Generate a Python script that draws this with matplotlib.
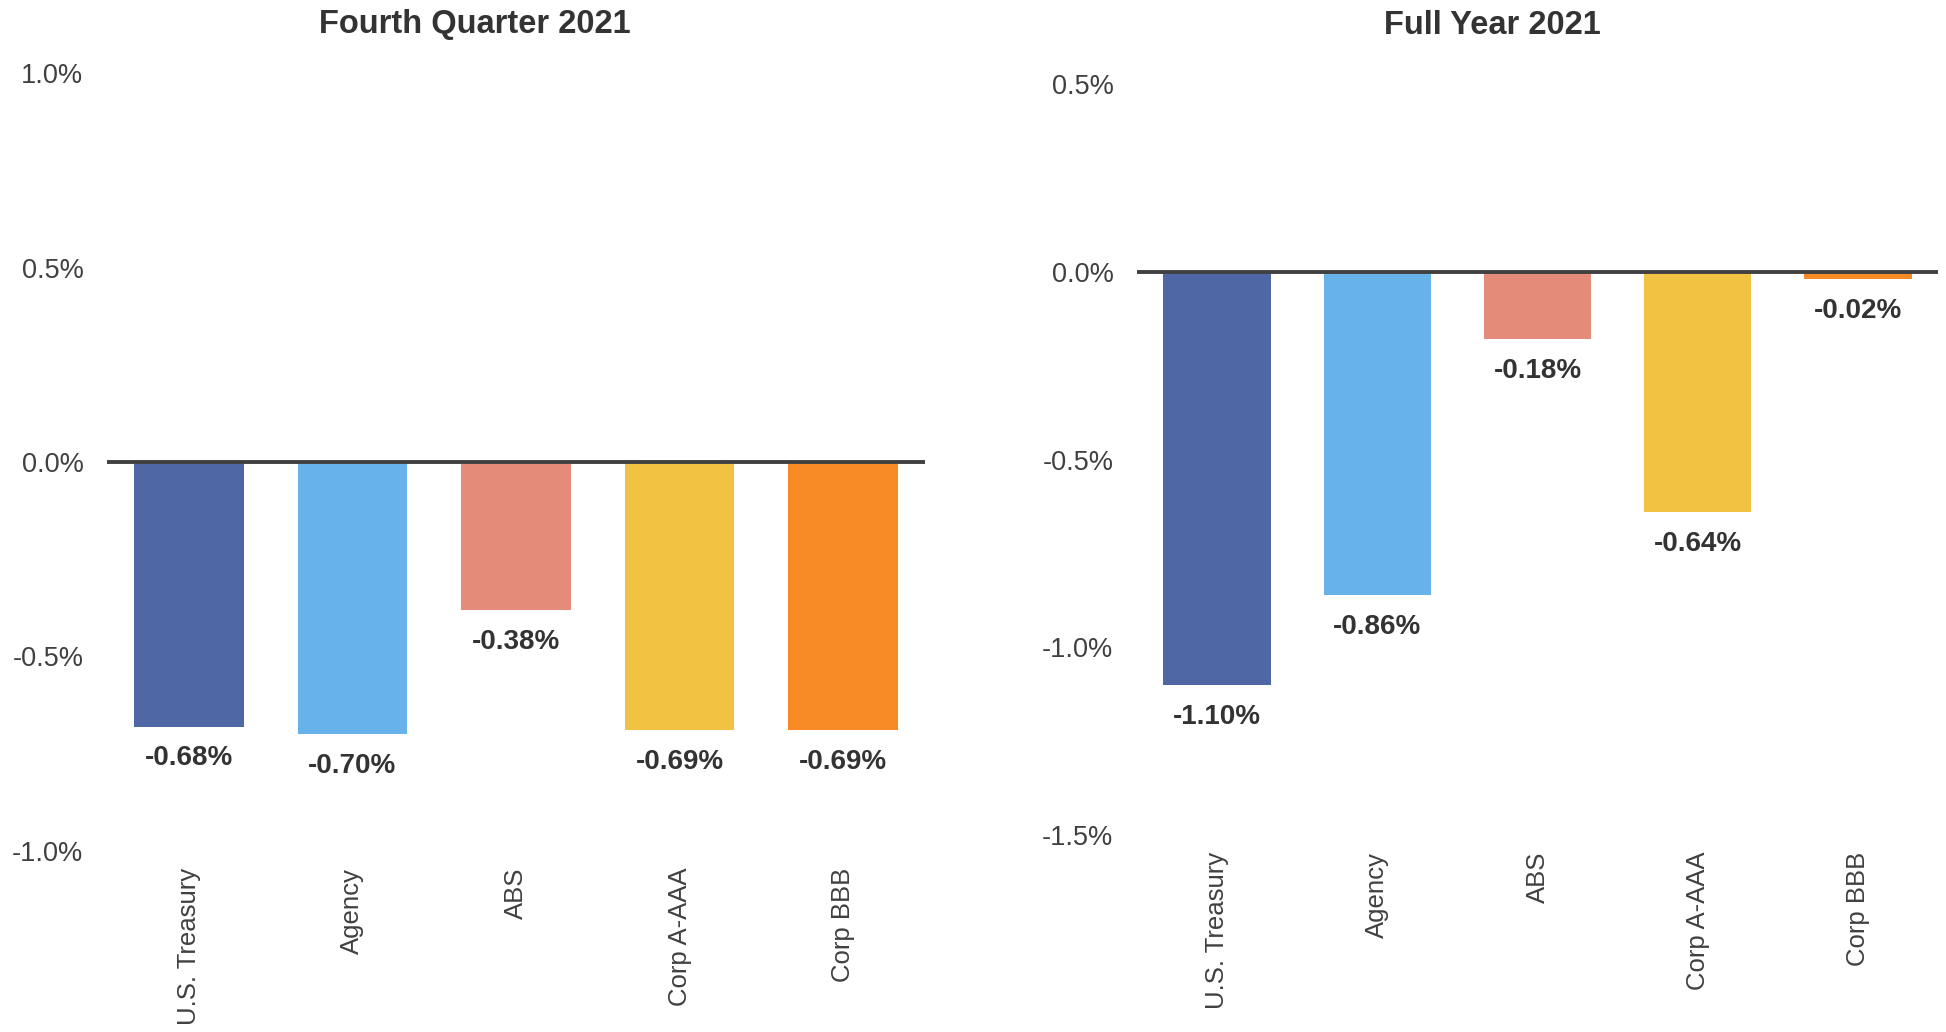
import matplotlib
matplotlib.use("Agg")
import matplotlib.pyplot as plt
from matplotlib.ticker import FuncFormatter

categories = ["U.S. Treasury", "Agency", "ABS", "Corp A-AAA", "Corp BBB"]
q4_values = [-0.68, -0.70, -0.38, -0.69, -0.69]
fy_values = [-1.10, -0.86, -0.18, -0.64, -0.02]
q4_title = "Fourth Quarter 2021"
fy_title = "Full Year 2021"
q4_ticks = [-1.0, -0.5, 0.0, 0.5, 1.0]
fy_ticks = [-1.5, -1.0, -0.5, 0.0, 0.5]
colors = ["#4F67A4", "#67B2E9", "#E48C79", "#F2C343", "#F78A25"]

NARROW = ["Liberation Sans Narrow", "Liberation Sans", "DejaVu Sans"]
REGULAR = ["Liberation Sans", "DejaVu Sans"]
TXT = "#404040"

fig = plt.figure(figsize=(19.46, 10.32), dpi=100)
W, H = 1946, 1032

def box(l, t, r, b):
    return [l / W, 1 - b / H, (r - l) / W, (b - t) / H]

panels = [
    (box(107, 73, 925, 851), q4_values, q4_ticks, q4_title, 475),
    (box(1137, 84, 1938, 835), fy_values, fy_ticks, fy_title, 1492),
]

for rect, vals, ticks, title, tx in panels:
    ax = fig.add_axes(rect)
    x = list(range(len(categories)))
    ax.bar(x, vals, width=0.67, color=colors, zorder=2)
    ax.axhline(0, color=TXT, lw=2.8, zorder=3)
    ax.set_xlim(-0.5, len(categories) - 0.5)
    ax.set_ylim(ticks[0], ticks[-1])
    ax.set_yticks(ticks)
    ax.yaxis.set_major_formatter(FuncFormatter(lambda v, p: f"{v:.1f}%"))
    ax.set_xticks(x)
    ax.set_xticklabels(categories, rotation=90, family=REGULAR, fontsize=18.5, color=TXT)
    for lab in ax.get_yticklabels():
        lab.set_family(NARROW)
        lab.set_fontsize(19.5)
        lab.set_color(TXT)
    ax.tick_params(axis="x", length=0, pad=12)
    ax.tick_params(axis="y", length=0, pad=17)
    for s in ax.spines.values():
        s.set_visible(False)
    for xi, v in zip(x, vals):
        ax.annotate(f"{v:.2f}%", (xi, v), xytext=(0, -23), textcoords="offset points",
                    ha="center", va="center", family=NARROW, fontweight="bold",
                    fontsize=20, color="#333333")
    fig.text(tx / W, 1 - 25 / H, title, ha="center", va="center", family=NARROW,
             fontweight="bold", fontsize=23.5, color="#333333")

fig.savefig("out.png", dpi=100, facecolor="white")
